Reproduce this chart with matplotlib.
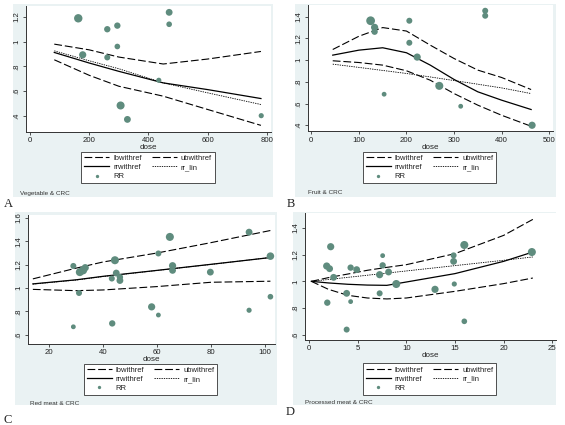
import matplotlib
matplotlib.use("Agg")
import matplotlib.pyplot as plt
from matplotlib.lines import Line2D

W, H = 565, 425
DPI = 100

# ---------------- data ----------------
# Panel A: Vegetable & CRC
a_dose = [163, 178, 261, 261, 295, 295, 306, 329, 435, 470, 470, 781]
a_rr = [1.187, 0.893, 1.099, 0.872, 1.128, 0.960, 0.485, 0.373, 0.688, 1.235, 1.139, 0.403]
a_wt = [7.0, 6.0, 5.3, 5.0, 5.3, 4.7, 6.7, 5.7, 4.3, 5.7, 4.7, 4.3]
a_xline = [82, 200, 300, 450, 600, 780]
a_lb = [0.853, 0.728, 0.640, 0.560, 0.453, 0.325]
a_ub = [0.979, 0.933, 0.875, 0.819, 0.859, 0.920]
a_rrw = [0.912, 0.827, 0.760, 0.667, 0.613, 0.541]
a_lin = [0.925, 0.845, 0.781, 0.667, 0.587, 0.493]
a_xticks = [0, 200, 400, 600, 800]
a_yticks = [0.4, 0.6, 0.8, 1.0, 1.2]
a_ylabels = [".4", ".6", ".8", "1", "1.2"]

# Panel B: Fruit & CRC
b_dose = [124.6, 133, 133, 206, 206, 222.5, 153, 269, 314, 365.5, 365.5, 464]
b_rr = [1.363, 1.302, 1.262, 1.363, 1.160, 1.028, 0.686, 0.763, 0.575, 1.455, 1.409, 0.400]
b_wt = [7.3, 6.0, 5.3, 5.0, 5.0, 6.0, 4.0, 6.7, 4.0, 5.0, 5.0, 6.0]
b_xline = [45, 100, 150, 200, 250, 300, 350, 400, 462]
b_ub = [1.098, 1.220, 1.300, 1.268, 1.138, 1.015, 0.908, 0.840, 0.729]
b_rrw = [1.046, 1.092, 1.114, 1.068, 0.954, 0.822, 0.708, 0.631, 0.545]
b_lb = [0.994, 0.978, 0.954, 0.902, 0.815, 0.692, 0.585, 0.492, 0.391]
b_lin = [0.963, 0.933, 0.905, 0.877, 0.845, 0.812, 0.778, 0.744, 0.692]
b_xticks = [0, 100, 200, 300, 400, 500]
b_yticks = [0.4, 0.6, 0.8, 1.0, 1.2, 1.4]
b_ylabels = [".4", ".6", ".8", "1", "1.2", "1.4"]

# Panel C: Red meat & CRC
c_dose = [29, 29, 31.1, 31.4, 32.6, 33.4, 43.25, 43.4, 44.4, 44.9, 46.25, 46.25,
          58, 60.5, 60.5, 64.75, 65.75, 65.75, 79.75, 94.1, 94.1, 102, 102]
c_rr = [1.189, 0.667, 0.957, 1.136, 1.151, 1.174, 1.081, 0.696, 1.238, 1.128, 1.093, 1.064,
        0.838, 1.296, 0.768, 1.438, 1.191, 1.151, 1.136, 1.479, 0.809, 1.273, 0.925]
c_wt = [5.0, 4.0, 5.0, 6.7, 6.7, 6.0, 5.0, 5.3, 6.7, 5.7, 5.3, 5.7,
        6.0, 5.0, 4.0, 6.7, 6.0, 5.7, 5.7, 5.7, 4.3, 6.3, 4.7]
c_xline = [14, 30, 40, 60, 80, 102]
c_ub = [1.078, 1.170, 1.223, 1.300, 1.389, 1.493]
c_rrw = [1.035, 1.070, 1.100, 1.151, 1.203, 1.261]
c_lb = [0.988, 0.977, 0.983, 1.012, 1.049, 1.058]
c_lin = [1.033, 1.068, 1.098, 1.150, 1.202, 1.262]
c_xticks = [20, 40, 60, 80, 100]
c_yticks = [0.6, 0.8, 1.0, 1.2, 1.4, 1.6]
c_ylabels = [".6", ".8", "1", "1.2", "1.4", "1.6"]

# Panel D: Processed meat & CRC
d_dose = [1.82, 2.12, 1.88, 2.23, 2.53, 3.87, 3.87, 4.28, 4.28, 4.9, 7.26, 7.26,
          7.57, 7.57, 8.18, 8.97, 12.95, 14.86, 14.86, 14.93, 15.96, 15.96, 22.9]
d_rr = [1.115, 1.095, 0.840, 1.260, 1.030, 0.910, 0.638, 1.103, 0.848, 1.088, 1.050, 0.910,
        1.193, 1.120, 1.070, 0.980, 0.940, 1.195, 1.150, 0.980, 1.273, 0.700, 1.220]
d_wt = [6.0, 5.7, 5.3, 6.0, 5.7, 5.7, 5.0, 5.3, 4.0, 5.7, 6.0, 5.0,
        4.0, 5.3, 5.7, 6.7, 6.0, 5.0, 5.7, 4.3, 6.7, 4.7, 6.7]
d_xline = [0.24, 2, 4, 6, 8, 10, 15, 20, 23]
d_ub = [1.000, 1.028, 1.055, 1.083, 1.105, 1.125, 1.208, 1.345, 1.465]
d_rrw = [1.000, 0.988, 0.978, 0.972, 0.970, 0.995, 1.058, 1.150, 1.220]
d_lb = [1.000, 0.940, 0.895, 0.875, 0.868, 0.875, 0.925, 0.983, 1.025]
d_lin = [1.000, 1.014, 1.030, 1.046, 1.062, 1.078, 1.118, 1.158, 1.183]
d_xticks = [0, 5, 10, 15, 20, 25]
d_yticks = [0.6, 0.8, 1.0, 1.2, 1.4]
d_ylabels = [".6", ".8", "1", "1.2", "1.4"]

legend_labels = ["lbwithref", "rrwithref", "RR", "ubwithref", "rr_lin"]

# ---------------- styling ----------------
BG = "#EAF2F3"
MK = "#5F8C7E"
TXT = "#222222"
SANS = ["Liberation Sans", "DejaVu Sans"]

fig = plt.figure(figsize=(W / DPI, H / DPI), dpi=DPI)
fig.patch.set_facecolor("white")


def fx(x):
    return x / W


def fy(y):
    return 1 - y / H


def panel(region, plot, xlim, ylim, dose, rr, wt, xl, lb, ub, rrw, lin,
          xticks, yticks, ylabels, legcenter, note, notepos, letter, letterpos):
    gx0, gy0, gx1, gy1 = region
    bg = fig.add_axes([fx(gx0), fy(gy1), fx(gx1 - gx0), (gy1 - gy0) / H], zorder=-5)
    bg.set_facecolor(BG)
    bg.set_xticks([])
    bg.set_yticks([])
    for s in bg.spines.values():
        s.set_visible(False)

    px0, py0, px1, py1 = plot
    ax = fig.add_axes([fx(px0), fy(py1), fx(px1 - px0), (py1 - py0) / H], zorder=1)
    ax.set_facecolor("white")
    ax.set_xlim(*xlim)
    ax.set_ylim(*ylim)
    for s in ["top", "right"]:
        ax.spines[s].set_visible(False)
    for s in ["left", "bottom"]:
        ax.spines[s].set_color("#333333")
        ax.spines[s].set_linewidth(0.7)
    ax.set_xticks(xticks)
    ax.set_xticklabels([str(t) for t in xticks], fontsize=5.6, family=SANS, color=TXT)
    ax.set_yticks(yticks)
    ax.set_yticklabels(ylabels, fontsize=5.6, family=SANS, color=TXT,
                       rotation=90, va="center")
    ax.tick_params(axis="both", length=2.5, width=0.6, color="#333333", pad=1.5)
    ax.set_xlabel("dose", fontsize=5.8, family=SANS, color=TXT, labelpad=0)

    h_lb, = ax.plot(xl, lb, color="black", lw=0.8, dashes=(7, 2.6))
    h_ub, = ax.plot(xl, ub, color="black", lw=0.8, dashes=(7, 2.6))
    h_rr, = ax.plot(xl, rrw, color="black", lw=0.9)
    h_lin, = ax.plot(xl, lin, color="black", lw=0.6, dashes=(1.6, 1.2))
    sizes = [(1.2 * w / 1.389) ** 2 for w in wt]
    ax.scatter(dose, rr, s=sizes, color=MK, edgecolors="none", zorder=3, clip_on=False)

    h_pt = Line2D([], [], ls="none", marker="o", markersize=2.4,
                  markerfacecolor=MK, markeredgecolor="none")
    leg = fig.legend([h_lb, h_rr, h_pt, h_ub, h_lin], legend_labels, ncol=2,
                     loc="center",
                     bbox_to_anchor=(fx(legcenter[0]), fy(legcenter[1])),
                     bbox_transform=fig.transFigure,
                     prop={"family": SANS, "size": 5.5},
                     handlelength=3.3, handletextpad=0.5, columnspacing=1.3,
                     labelspacing=0.22, borderpad=0.38, borderaxespad=0,
                     fancybox=False, framealpha=1, edgecolor="#333333")
    leg.get_frame().set_linewidth(0.6)
    leg.set_zorder(5)
    for t in leg.get_texts():
        t.set_color(TXT)

    fig.text(fx(notepos[0]), fy(notepos[1]), note, fontsize=4.6, family=SANS,
             color="#333333", ha="left", va="center", zorder=5)
    fig.text(fx(letterpos[0]), fy(letterpos[1]), letter, fontsize=9,
             family=["Liberation Serif", "DejaVu Serif"], color=TXT,
             ha="left", va="center", zorder=5)
    return ax


panel((13, 4, 273, 197), (26, 6, 271, 131.7), (-13.5, 814), (0.274, 1.286),
      a_dose, a_rr, a_wt, a_xline, a_lb, a_ub, a_rrw, a_lin,
      a_xticks, a_yticks, a_ylabels, (148, 167.5),
      "Vegetable & CRC", (20, 193), "A", (4, 204))

panel((295, 4, 556, 197), (308, 5, 553, 131), (-7, 508), (0.347, 1.508),
      b_dose, b_rr, b_wt, b_xline, b_lb, b_ub, b_rrw, b_lin,
      b_xticks, b_yticks, b_ylabels, (429.5, 167.5),
      "Fruit & CRC", (308, 193), "B", (287, 204))

panel((15, 212, 277, 405), (28, 215, 275, 343.7), (12.2, 103.7), (0.522, 1.626),
      c_dose, c_rr, c_wt, c_xline, c_lb, c_ub, c_rrw, c_lin,
      c_xticks, c_yticks, c_ylabels, (150.5, 379.2),
      "Red meat & CRC", (30, 403.5), "C", (4, 420))

panel((293, 212, 556, 405), (304.7, 213, 555.7, 339.7), (-0.44, 25.35), (0.562, 1.513),
      d_dose, d_rr, d_wt, d_xline, d_lb, d_ub, d_rrw, d_lin,
      d_xticks, d_yticks, d_ylabels, (429.5, 379),
      "Processed meat & CRC", (305, 402.7), "D", (286, 412))

fig.savefig("out.png", dpi=DPI, facecolor="white")
